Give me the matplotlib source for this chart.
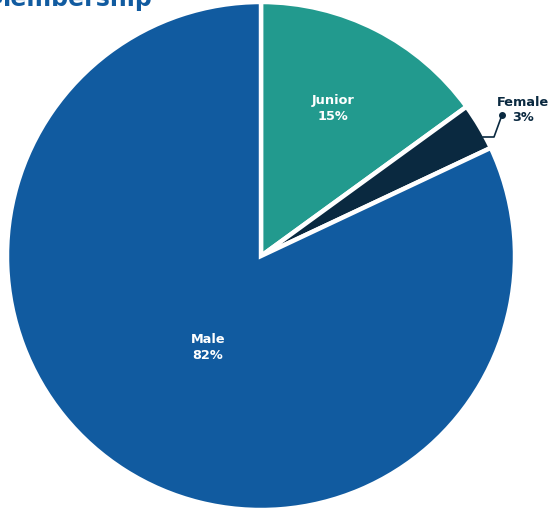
import matplotlib
matplotlib.use('Agg')
import matplotlib.pyplot as plt

# Membership split
labels = ['Junior', 'Female', 'Male']
shares = [15, 3, 82]
colors = ['#229a8e', '#0a2940', '#115ba0']
text_colors = ['white', '#0a2940', 'white']

W, H = 551, 513
fig = plt.figure(figsize=(W / 100, H / 100), dpi=100)

# pie centre (261, 256) px from top-left, radius 254 px
cx, cy, r = 261, 256, 254
ax = fig.add_axes([(cx - r) / W, (H - cy - r) / H, 2 * r / W, 2 * r / H])
ax.set_xlim(-1, 1)
ax.set_ylim(-1, 1)
ax.set_aspect('equal')
ax.axis('off')

wedges, _ = ax.pie(shares, colors=colors, startangle=90, counterclock=False,
                   radius=1.0, wedgeprops=dict(edgecolor='white', linewidth=3.2),
                   center=(0, 0))
ax.set_xlim(-1, 1)
ax.set_ylim(-1, 1)

# label positions in pie-radius units
label_pos = [(0.283, 0.58), (1.03, 0.575), (-0.209, -0.36)]
for lab, val, (x, y), tc in zip(labels, shares, label_pos, text_colors):
    ax.text(x, y, f'{lab}\n{val}%', ha='center', va='center', color=tc,
            fontsize=9.3, fontweight='bold', linespacing=1.25)

# leader line for the thin Female slice
def px(x, y):
    return (x - cx) / r, (cy - y) / r

lx = [px(483, 137)[0], px(494, 137)[0], px(502, 115)[0]]
ly = [px(483, 137)[1], px(494, 137)[1], px(502, 115)[1]]
ax.plot(lx, ly, color='#0a2940', lw=1.2, clip_on=False)
ax.plot(lx[-1], ly[-1], 'o', color='#0a2940', ms=4, clip_on=False)

# title, partly above the top edge
fig.text(-12 / W, 1 - 6 / H, 'Membership', ha='left', va='baseline',
         color='#115ba0', fontsize=17, fontweight='bold')

fig.savefig('out.png', dpi=100)
